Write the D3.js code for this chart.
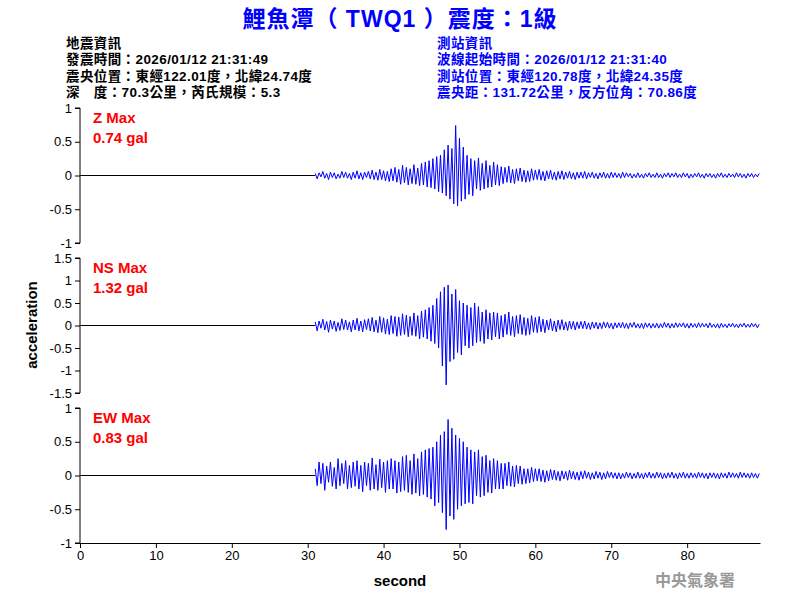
<!DOCTYPE html>
<html><head><meta charset="utf-8">
<script src="https://cdn.jsdelivr.net/npm/d3@7"></script>
<style>body{margin:0;background:#fff}</style>
</head><body>
<svg id="chart" width="800" height="600"></svg>
<script>
// waveform samples, 0.25 s apart, starting at 31 s
const startTime = 31, dt = 0.25;
const zValues = [
  0.03,-0.05,0.04,-0.02,0.06,-0.04,0.03,-0.06,0.05,-0.03,0.04,-0.05,0.02,-0.04,0.06,-0.03,0.05,-0.04,0.03,-0.06,
  0.05,-0.04,0.07,-0.05,0.04,-0.06,0.05,-0.03,0.06,-0.05,0.08,-0.06,0.05,-0.07,0.09,-0.06,0.07,-0.08,0.06,-0.09,
  0.1,-0.08,0.12,-0.1,0.09,-0.13,0.15,-0.11,0.12,-0.14,0.1,-0.12,0.16,-0.13,0.11,-0.15,0.18,-0.14,0.2,-0.17,
  0.22,-0.18,0.25,-0.2,0.28,-0.24,0.3,-0.26,0.38,-0.3,0.45,-0.35,0.4,-0.42,0.74,-0.45,0.55,-0.38,0.42,-0.35,
  0.3,-0.28,0.25,-0.3,0.22,-0.2,0.26,-0.22,0.18,-0.2,0.22,-0.18,0.15,-0.17,0.2,-0.14,0.16,-0.15,0.13,-0.12,
  0.12,-0.1,0.14,-0.11,0.09,-0.12,0.1,-0.08,0.11,-0.09,0.08,-0.1,0.07,-0.09,0.1,-0.07,0.08,-0.06,0.09,-0.07,
  0.06,-0.08,0.07,-0.05,0.08,-0.06,0.05,-0.07,0.06,-0.05,0.07,-0.06,0.05,-0.04,0.06,-0.05,0.04,-0.06,0.05,-0.04,
  0.05,-0.04,0.06,-0.05,0.04,-0.03,0.05,-0.04,0.03,-0.05,0.04,-0.03,0.05,-0.04,0.03,-0.04,0.05,-0.03,0.04,-0.03,
  0.03,-0.04,0.05,-0.03,0.04,-0.02,0.03,-0.04,0.02,-0.03,0.04,-0.03,0.02,-0.04,0.03,-0.02,0.04,-0.03,0.02,-0.03,
  0.04,-0.03,0.02,-0.04,0.03,-0.02,0.04,-0.03,0.03,-0.02,0.04,-0.03,0.02,-0.03,0.04,-0.02,0.03,-0.04,0.02,-0.03,
  0.03,-0.02,0.04,-0.03,0.02,-0.04,0.03,-0.02,0.03,-0.03,0.02,-0.04,0.03,-0.02,0.04,-0.03,0.02,-0.03,0.03,-0.02,
  0.02,-0.03,0.04,-0.02,0.03,-0.03,0.02,-0.04,0.03,-0.02,0.03,-0.03,0.02,-0.02,0.03
];
const nsValues = [
  0.08,-0.12,0.1,-0.06,0.14,-0.1,0.09,-0.15,0.12,-0.08,0.1,-0.13,0.07,-0.11,0.15,-0.09,0.12,-0.1,0.08,-0.14,
  0.12,-0.1,0.16,-0.12,0.1,-0.14,0.13,-0.09,0.15,-0.12,0.18,-0.14,0.12,-0.16,0.2,-0.15,0.17,-0.19,0.14,-0.2,
  0.22,-0.18,0.2,-0.24,0.19,-0.22,0.26,-0.2,0.23,-0.25,0.2,-0.22,0.28,-0.24,0.22,-0.3,0.32,-0.26,0.35,-0.3,
  0.4,-0.35,0.45,-0.4,0.6,-0.5,0.75,-0.9,0.85,-1.32,0.9,-0.8,0.7,-0.75,0.8,-0.6,0.55,-0.65,0.5,-0.45,
  0.45,-0.5,0.4,-0.45,0.5,-0.38,0.42,-0.35,0.3,-0.4,0.35,-0.3,0.28,-0.32,0.3,-0.25,0.28,-0.3,0.22,-0.26,
  0.25,-0.2,0.3,-0.22,0.2,-0.25,0.22,-0.18,0.24,-0.2,0.18,-0.22,0.16,-0.2,0.22,-0.15,0.18,-0.16,0.2,-0.14,
  0.14,-0.16,0.12,-0.1,0.15,-0.12,0.1,-0.14,0.12,-0.09,0.13,-0.1,0.08,-0.11,0.1,-0.08,0.09,-0.1,0.08,-0.07,
  0.09,-0.07,0.1,-0.08,0.06,-0.09,0.08,-0.06,0.07,-0.08,0.06,-0.07,0.08,-0.05,0.07,-0.06,0.05,-0.08,0.06,-0.05,
  0.06,-0.05,0.07,-0.06,0.05,-0.07,0.06,-0.04,0.07,-0.05,0.04,-0.06,0.05,-0.07,0.06,-0.04,0.05,-0.06,0.04,-0.05,
  0.05,-0.06,0.04,-0.05,0.07,-0.04,0.05,-0.06,0.04,-0.05,0.06,-0.04,0.05,-0.03,0.06,-0.05,0.04,-0.06,0.05,-0.04,
  0.04,-0.05,0.06,-0.04,0.05,-0.03,0.04,-0.05,0.06,-0.04,0.03,-0.05,0.04,-0.06,0.05,-0.04,0.03,-0.05,0.04,-0.03,
  0.05,-0.04,0.03,-0.05,0.04,-0.03,0.05,-0.04,0.03,-0.04,0.05,-0.03,0.04,-0.05,0.03
];
const ewValues = [
  0.1,-0.15,0.2,-0.12,0.18,-0.22,0.14,-0.1,0.2,-0.16,0.12,-0.2,0.25,-0.15,0.18,-0.12,0.22,-0.2,0.15,-0.18,
  0.2,-0.16,0.22,-0.2,0.15,-0.24,0.2,-0.15,0.18,-0.22,0.26,-0.2,0.16,-0.22,0.24,-0.18,0.2,-0.25,0.22,-0.2,
  0.25,-0.2,0.22,-0.26,0.2,-0.24,0.28,-0.22,0.3,-0.25,0.22,-0.28,0.32,-0.26,0.25,-0.3,0.35,-0.28,0.38,-0.32,
  0.4,-0.35,0.42,-0.45,0.5,-0.4,0.6,-0.55,0.65,-0.8,0.83,-0.6,0.7,-0.65,0.6,-0.5,0.55,-0.45,0.5,-0.42,
  0.42,-0.4,0.38,-0.42,0.35,-0.3,0.38,-0.32,0.28,-0.3,0.3,-0.25,0.22,-0.26,0.25,-0.2,0.22,-0.2,0.18,-0.2,
  0.18,-0.15,0.2,-0.16,0.14,-0.17,0.15,-0.12,0.14,-0.13,0.1,-0.12,0.1,-0.11,0.12,-0.09,0.1,-0.08,0.1,-0.09,
  0.08,-0.1,0.07,-0.08,0.09,-0.06,0.08,-0.07,0.06,-0.08,0.07,-0.05,0.06,-0.07,0.08,-0.05,0.06,-0.06,0.05,-0.07,
  0.06,-0.05,0.07,-0.04,0.05,-0.06,0.04,-0.05,0.06,-0.04,0.05,-0.06,0.04,-0.05,0.06,-0.03,0.05,-0.04,0.04,-0.05,
  0.04,-0.05,0.03,-0.04,0.05,-0.03,0.04,-0.05,0.03,-0.04,0.05,-0.04,0.03,-0.05,0.04,-0.03,0.05,-0.04,0.03,-0.04,
  0.05,-0.03,0.04,-0.05,0.03,-0.04,0.04,-0.03,0.05,-0.04,0.03,-0.05,0.04,-0.03,0.05,-0.04,0.03,-0.04,0.04,-0.03,
  0.03,-0.04,0.05,-0.03,0.04,-0.04,0.03,-0.05,0.04,-0.03,0.04,-0.04,0.03,-0.05,0.04,-0.03,0.03,-0.04,0.05,-0.03,
  0.04,-0.03,0.03,-0.04,0.05,-0.03,0.04,-0.03,0.03,-0.04,0.04,-0.03,0.03,-0.04,0.03
];
const panels = [
  { name: "Z Max", max: "0.74 gal", values: zValues, ticks: [-1, -0.5, 0, 0.5, 1], range: 1 },
  { name: "NS Max", max: "1.32 gal", values: nsValues, ticks: [-1.5, -1, -0.5, 0, 0.5, 1, 1.5], range: 1.5 },
  { name: "EW Max", max: "0.83 gal", values: ewValues, ticks: [-1, -0.5, 0, 0.5, 1], range: 1 }
];
const xTicks = [0, 10, 20, 30, 40, 50, 60, 70, 80];
const leftInfo = ["地震資訊", "發震時間：2026/01/12 21:31:49", "震央位置：東經122.01度，北緯24.74度", "深　度：70.3公里，芮氏規模：5.3"];
const rightInfo = ["測站資訊", "波線起始時間：2026/01/12 21:31:40", "測站位置：東經120.78度，北緯24.35度", "震央距：131.72公里，反方位角：70.86度"];

const svg = d3.select("#chart");
const font = "'Liberation Sans', Arial, sans-serif";
const mixed = "'Liberation Sans', 'Noto Sans CJK TC', sans-serif";
const cjk = "'Noto Sans CJK TC', sans-serif";
const blue = "#0000ff";

svg.append("text").attr("x", 400).attr("y", 27).attr("text-anchor", "middle")
  .attr("font-family", mixed).attr("font-size", 23).attr("font-weight", "bold")
  .attr("fill", blue).attr("letter-spacing", 1).text("鯉魚潭（ TWQ1 ）震度：1級");

[[leftInfo, 66, "#000"], [rightInfo, 437, blue]].forEach(([lines, x, c]) => {
  svg.append("g").selectAll("text").data(lines).join("text")
    .attr("x", x).attr("y", (d, i) => 48 + i * 16.3)
    .attr("font-family", mixed).attr("font-size", 13.5).attr("font-weight", "bold")
    .attr("letter-spacing", 0.4).attr("fill", c).text(d => d);
});

const x = d3.scaleLinear().domain([0, 89.6]).range([80, 760]);
const tops = [108, 258, 408], ph = 135;
const fmt = d => String(d);

panels.forEach((p, k) => {
  const y = d3.scaleLinear().domain([-p.range, p.range]).range([tops[k] + ph, tops[k]]);
  const g = svg.append("g");
  g.append("g").attr("transform", "translate(80,0)")
    .call(d3.axisLeft(y).tickValues(p.ticks).tickSize(5).tickFormat(fmt))
    .call(a => a.selectAll("text").attr("font-family", font).attr("font-size", 13))
    .call(a => a.select(".domain").attr("d", `M-5,${y(p.range)}H0V${y(-p.range)}H-5`));
  g.append("line").attr("x1", x(0)).attr("x2", x(startTime)).attr("y1", y(0)).attr("y2", y(0))
    .attr("stroke", "#000").attr("stroke-width", 1);
  const pts = p.values.map((v, i) => [startTime + i * dt, v]);
  g.append("path").datum(pts)
    .attr("d", d3.line().x(d => x(d[0])).y(d => y(d[1])))
    .attr("fill", "none").attr("stroke", blue).attr("stroke-width", 1);
  g.append("text").attr("x", 93).attr("y", tops[k] + 15).attr("fill", "#ff0000")
    .attr("font-family", font).attr("font-size", 15).attr("font-weight", "bold").text(p.name);
  g.append("text").attr("x", 93).attr("y", tops[k] + 35).attr("fill", "#ff0000")
    .attr("font-family", font).attr("font-size", 15).attr("font-weight", "bold").text(p.max);
});

svg.append("g").attr("transform", "translate(0,543)")
  .call(d3.axisBottom(x).tickValues(xTicks).tickSize(5).tickSizeOuter(0))
  .call(a => a.selectAll("text").attr("font-family", font).attr("font-size", 13));

svg.append("text").attr("x", 400).attr("y", 586).attr("text-anchor", "middle")
  .attr("font-family", font).attr("font-size", 15).attr("font-weight", "bold").text("second");
svg.append("text").attr("transform", "translate(37,325) rotate(-90)").attr("text-anchor", "middle")
  .attr("font-family", font).attr("font-size", 15).attr("font-weight", "bold").text("acceleration");
svg.append("text").attr("x", 655).attr("y", 586).attr("font-family", cjk).attr("font-size", 16)
  .attr("font-weight", "bold").attr("fill", "#999").text("中央氣象署");
</script>
</body></html>
